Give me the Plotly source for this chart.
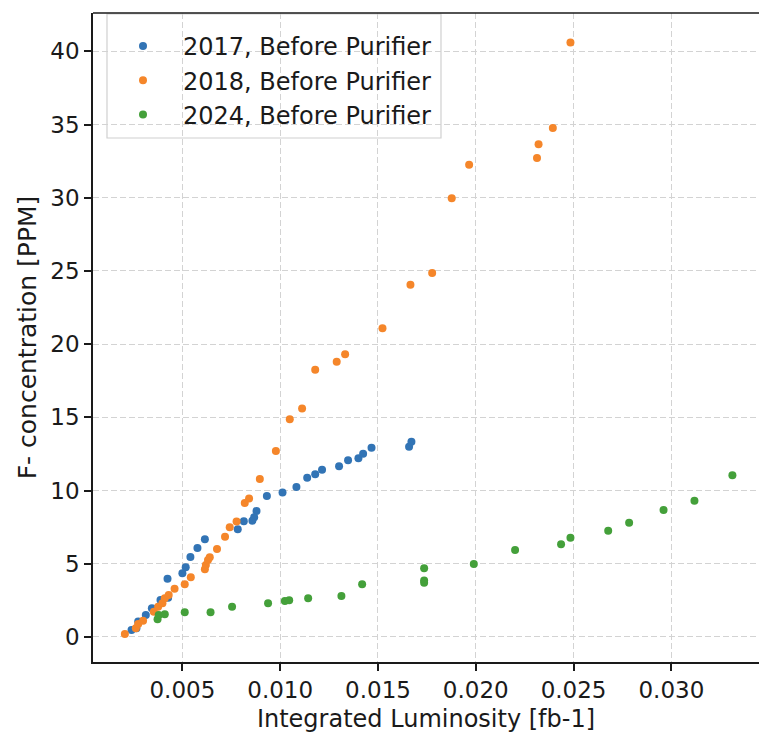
import plotly.graph_objects as go

# Fluoride concentration vs integrated luminosity, three running periods
lumi_2017 = [0.0024, 0.00265, 0.00274, 0.00313, 0.00344, 0.00388, 0.00427, 0.00424,
             0.0050, 0.00517, 0.00541, 0.00577, 0.00615, 0.00783, 0.00814, 0.00858,
             0.00867, 0.00879, 0.00932, 0.01012, 0.01083, 0.01138, 0.01179, 0.01214,
             0.01301, 0.01347, 0.01400, 0.01424, 0.01467, 0.01659, 0.01671]
conc_2017 = [0.48, 0.59, 1.05, 1.5, 1.96, 2.53, 2.68, 3.98,
             4.35, 4.76, 5.46, 6.08, 6.67, 7.36, 7.90, 7.94,
             8.18, 8.6, 9.63, 9.86, 10.25, 10.88, 11.11, 11.43,
             11.66, 12.07, 12.2, 12.52, 12.93, 13.0, 13.34]

lumi_2018 = [0.00206, 0.00262, 0.00274, 0.00299, 0.00354, 0.00376, 0.00398, 0.0041,
             0.0043, 0.0046, 0.00512, 0.00543, 0.00615, 0.0062, 0.00631, 0.0064,
             0.00677, 0.00718, 0.00742, 0.00777, 0.00819, 0.00841, 0.00896, 0.00978,
             0.01049, 0.01112, 0.01179, 0.01289, 0.01332, 0.01523, 0.01666, 0.01777,
             0.01877, 0.01966, 0.02313, 0.02321, 0.02394, 0.02484]
conc_2018 = [0.2, 0.59, 0.89, 1.11, 1.73, 2.07, 2.30, 2.64,
             2.87, 3.30, 3.6, 4.08, 4.62, 4.92, 5.26, 5.44,
             6.01, 6.85, 7.49, 7.88, 9.15, 9.45, 10.79, 12.7,
             14.87, 15.6, 18.26, 18.8, 19.31, 21.09, 24.06, 24.86,
             29.96, 32.26, 32.72, 33.66, 34.77, 40.6]

lumi_2024 = [0.00373, 0.00379, 0.0041, 0.00512, 0.00644, 0.00754, 0.00938, 0.01024,
             0.01046, 0.01143, 0.01313, 0.01419, 0.01736, 0.01736, 0.01736, 0.0199,
             0.02201, 0.02436, 0.02484, 0.02677, 0.02784, 0.0296, 0.03118, 0.03312]
conc_2024 = [1.21, 1.5, 1.55, 1.69, 1.69, 2.07, 2.30, 2.46,
             2.5, 2.64, 2.8, 3.6, 4.69, 3.85, 3.71, 4.99,
             5.94, 6.33, 6.78, 7.26, 7.81, 8.67, 9.31, 11.04]

series = [
    ("2017, Before Purifier", lumi_2017, conc_2017, "#3274b5"),
    ("2018, Before Purifier", lumi_2018, conc_2018, "#f5862a"),
    ("2024, Before Purifier", lumi_2024, conc_2024, "#44a03a"),
]

TICK_FONT = dict(family="DejaVu Sans", size=23, color="#1a1a1a")
LABEL_FONT = dict(family="DejaVu Sans", size=24, color="#1a1a1a")
YLABEL_FONT = dict(family="DejaVu Sans", size=25, color="#1a1a1a")

fig = go.Figure()
for i, (name, xs, ys, color) in enumerate(series):
    fig.add_trace(go.Scatter(
        x=xs, y=ys, mode="markers", name=name,
        legendgroup=str(i),
        marker=dict(color=color, size=8, line=dict(width=0)),
    ))

axis_common = dict(
    showline=True, linecolor="#1a1a1a", linewidth=1.6,
    ticks="outside", ticklen=7, tickwidth=1.5, tickcolor="#1a1a1a",
    showgrid=True, gridcolor="#d3d3d3", gridwidth=1.2, griddash="6px,3px",
    zeroline=False, tickfont=TICK_FONT,
)

# plot area spans 93..759 px horizontally and 13..662 px vertically
def px_x(p):
    return (p - 93) / 666

def px_y(p):
    return (662 - p) / 649

fig.update_layout(
    width=759, height=737,
    margin=dict(l=93, r=0, t=13, b=75),
    paper_bgcolor="white", plot_bgcolor="white",
    font=LABEL_FONT,
    xaxis=dict(
        range=[0.00043, 0.03448], tick0=0, dtick=0.005, tickformat=".3f",
        title=dict(text="Integrated Luminosity [fb-1]", font=LABEL_FONT, standoff=8),
        **axis_common,
    ),
    yaxis=dict(
        range=[-1.71, 42.62], tick0=0, dtick=5,
        title=dict(text="F- concentration [PPM]", font=YLABEL_FONT, standoff=7),
        **axis_common,
    ),
    legend=dict(
        x=px_x(103), y=px_y(24), xanchor="left", yanchor="top",
        bgcolor="rgba(0,0,0,0)", borderwidth=0,
        font=LABEL_FONT, itemwidth=70, tracegroupgap=0,
        traceorder="grouped",
    ),
    shapes=[
        # legend frame
        dict(type="rect", xref="paper", yref="paper", layer="below",
             x0=px_x(107), x1=px_x(441), y0=px_y(138), y1=px_y(14),
             fillcolor="rgba(255,255,255,0.85)", line=dict(color="#d0d0d0", width=1.2)),
        # top spine
        dict(type="line", xref="paper", yref="paper", x0=0, x1=1, y0=1, y1=1,
             line=dict(color="#1a1a1a", width=1.6)),
    ],
)

fig.write_html("out.html")
